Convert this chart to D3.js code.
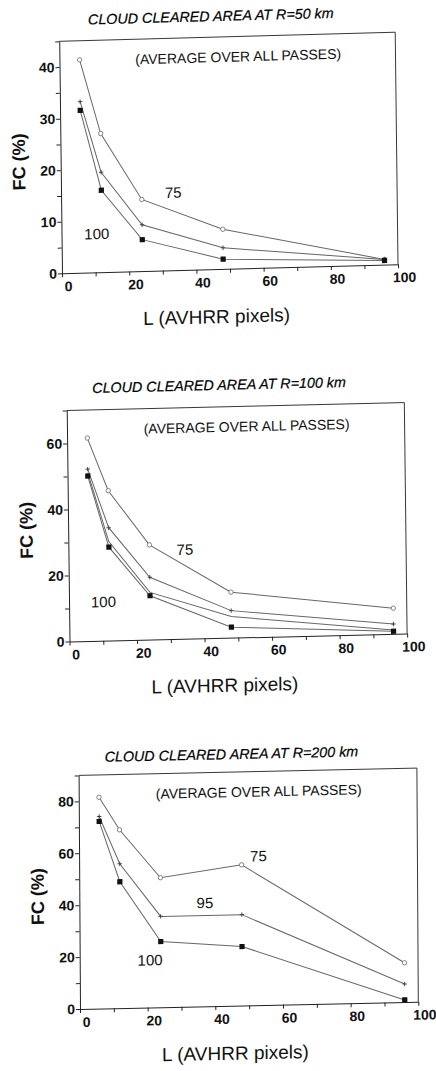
<!DOCTYPE html>
<html><head><meta charset="utf-8">
<script src="https://cdn.jsdelivr.net/npm/d3@7"></script>
<style>
html,body{margin:0;padding:0;background:#fff;}
svg{display:block;font-family:"Liberation Sans",Arial,Helvetica,sans-serif;}
</style></head><body>
<svg id="chart" width="436" height="1071"></svg>
<script>
// Box size L (AVHRR pixels) used for every curve
const L = [6, 12, 24, 48, 96];
const xTickValues = [0, 20, 40, 60, 80, 100];

// Cloud-cleared fraction FC (%) at R = 50 km
const r50_t75  = [41.3, 26.9, 13.9, 7.7, 1.0];
const r50_t95  = [33.2, 19.4, 9.0, 4.1, 1.0];
const r50_t100 = [31.5, 15.9, 6.1, 1.9, 0.8];
const r50_yTicks = [0, 10, 20, 30, 40];

// FC (%) at R = 100 km
const r100_t75  = [61.5, 45.4, 28.7, 13.8, 7.8];
const r100_t95  = [52.1, 34.2, 18.9, 8.2, 3.0];
const r100_tmid = [51.0, 30.0, 14.3, 6.4, 1.2];
const r100_t100 = [50.0, 28.3, 13.3, 3.2, 0.8];
const r100_yTicks = [0, 20, 40, 60];

// FC (%) at R = 200 km
const r200_t75  = [81.4, 68.7, 49.9, 54.2, 15.1];
const r200_t95  = [74.0, 55.6, 35.0, 35.0, 6.9];
const r200_t100 = [72.1, 48.7, 25.3, 22.7, 0.8];
const r200_yTicks = [0, 20, 40, 60, 80];

// Curve labels (threshold), placed in data units
const r50_labels  = [{t: "75", x: 33.4, y: 15.1}, {t: "100", x: 10.5, y: 7.5}];
const r100_labels = [{t: "75", x: 34.5, y: 27.1}, {t: "100", x: 10.2, y: 11.8}];
const r200_labels = [{t: "75", x: 53, y: 57.5}, {t: "95", x: 37.1, y: 39.9}, {t: "100", x: 20.8, y: 18.3}];

const panels = [
  { title: "CLOUD CLEARED AREA AT R=50 km", ymax: 45, yTicks: r50_yTicks, yMinor: 5,
    series: [{v: r50_t75, m: "circle"}, {v: r50_t95, m: "plus"}, {v: r50_t100, m: "square"}],
    labels: r50_labels, titleGap: 16,
    ox: 62, oy: 273.3, s: -0.027, c: 0.012, w: 336, h: 232 },
  { title: "CLOUD CLEARED AREA AT R=100 km", ymax: 70, yTicks: r100_yTicks, yMinor: 10,
    series: [{v: r100_t75, m: "circle"}, {v: r100_t95, m: "plus"}, {v: r100_tmid, m: "none"}, {v: r100_t100, m: "square"}],
    labels: r100_labels, titleGap: 17,
    ox: 69.5, oy: 641.5, s: -0.0235, c: 0.012, w: 337.6, h: 231 },
  { title: "CLOUD CLEARED AREA AT R=200 km", ymax: 90, yTicks: r200_yTicks, yMinor: 10,
    series: [{v: r200_t75, m: "circle"}, {v: r200_t95, m: "plus"}, {v: r200_t100, m: "square"}],
    labels: r200_labels, titleGap: 13,
    ox: 80, oy: 1009, s: -0.0216, c: 0.006, w: 338.3, h: 233.6 }
];

const svg = d3.select("#chart");
const ink = "#222";
const lineInk = "#666";

panels.forEach(p => {
  // each plot sits on a slightly tilted sheet
  const g = svg.append("g")
    .attr("transform", `matrix(1,${p.s},${p.c},1,${p.ox},${p.oy})`);

  const x = d3.scaleLinear().domain([0, 100]).range([0, p.w]);
  const y = d3.scaleLinear().domain([0, p.ymax]).range([0, -p.h]);

  // top and right border of the plot box
  g.append("path")
    .attr("d", `M${x(0)},${y(p.ymax)}H${x(100)}V${y(0)}`)
    .attr("fill", "none").attr("stroke", ink).attr("stroke-width", 0.9);

  // x axis
  const xAxis = d3.axisBottom(x)
    .tickValues(d3.range(0, 101, 10))
    .tickSize(4).tickSizeOuter(0)
    .tickFormat(d => xTickValues.includes(d) ? d : "");
  const gx = g.append("g").call(xAxis);
  gx.select(".domain").attr("stroke", ink).attr("stroke-width", 1);
  gx.selectAll(".tick line").attr("stroke", ink);
  gx.selectAll(".tick text")
    .attr("fill", "#111").attr("font-size", 14).attr("font-weight", "bold")
    .attr("font-family", "Liberation Sans, Arial, sans-serif")
    .attr("dx", 6).attr("y", 18).attr("dy", 0);

  // y axis
  const yAxis = d3.axisLeft(y)
    .tickValues(d3.range(0, p.ymax + 0.001, p.yMinor))
    .tickSize(4).tickSizeOuter(0)
    .tickFormat(d => p.yTicks.includes(d) ? d : "");
  const gy = g.append("g").call(yAxis);
  gy.select(".domain").attr("stroke", ink).attr("stroke-width", 1);
  gy.selectAll(".tick line").attr("stroke", ink);
  gy.selectAll(".tick text")
    .attr("fill", "#111").attr("font-size", 14).attr("font-weight", "bold")
    .attr("font-family", "Liberation Sans, Arial, sans-serif")
    .attr("x", -5);

  // curves
  const line = d3.line().x((d, i) => x(L[i])).y(d => y(d));
  p.series.forEach(sr => {
    g.append("path").datum(sr.v)
      .attr("d", line)
      .attr("fill", "none").attr("stroke", lineInk).attr("stroke-width", 1);
  });

  // markers
  p.series.forEach(sr => {
    const pts = sr.v.map((v, i) => [x(L[i]), y(v)]);
    if (sr.m === "circle") {
      g.selectAll(null).data(pts).join("circle")
        .attr("cx", d => d[0]).attr("cy", d => d[1]).attr("r", 2.2)
        .attr("fill", "#fff").attr("stroke", "#777").attr("stroke-width", 0.9);
    } else if (sr.m === "plus") {
      g.selectAll(null).data(pts).join("path")
        .attr("d", d => `M${d[0] - 2.2},${d[1]}H${d[0] + 2.2}M${d[0]},${d[1] - 2.2}V${d[1] + 2.2}`)
        .attr("stroke", "#444").attr("stroke-width", 1);
    } else if (sr.m === "square") {
      g.selectAll(null).data(pts).join("rect")
        .attr("x", d => d[0] - 2.6).attr("y", d => d[1] - 2.6)
        .attr("width", 5.2).attr("height", 5.2).attr("fill", "#111");
    }
  });

  // curve labels
  g.selectAll(null).data(p.labels).join("text")
    .attr("x", d => x(d.x)).attr("y", d => y(d.y))
    .attr("dy", "0.36em").attr("text-anchor", "middle")
    .attr("font-size", 15).attr("fill", "#111")
    .text(d => d.t);

  // titles
  g.append("text")
    .attr("x", p.w * 0.452).attr("y", -p.h - p.titleGap)
    .attr("text-anchor", "middle").attr("font-size", 14.3)
    .attr("font-style", "italic").attr("fill", "#000")
    .attr("stroke", "#000").attr("stroke-width", 0.2)
    .text(p.title);
  g.append("text")
    .attr("x", p.w * 0.532).attr("y", -p.h + 25)
    .attr("text-anchor", "middle").attr("font-size", 14)
    .attr("fill", "#111")
    .text("(AVERAGE OVER ALL PASSES)");

  // axis titles
  g.append("text")
    .attr("x", p.w / 2 - 14).attr("y", 54)
    .attr("text-anchor", "middle").attr("font-size", 19)
    .attr("fill", "#111")
    .text("L (AVHRR pixels)");
  g.append("text")
    .attr("transform", `translate(-42,${-p.h / 2 + 3.5}) rotate(-90)`)
    .attr("text-anchor", "middle").attr("dy", "0.36em")
    .attr("font-size", 18).attr("font-weight", "bold").attr("fill", "#111")
    .text("FC (%)");
});
</script>
</body></html>
